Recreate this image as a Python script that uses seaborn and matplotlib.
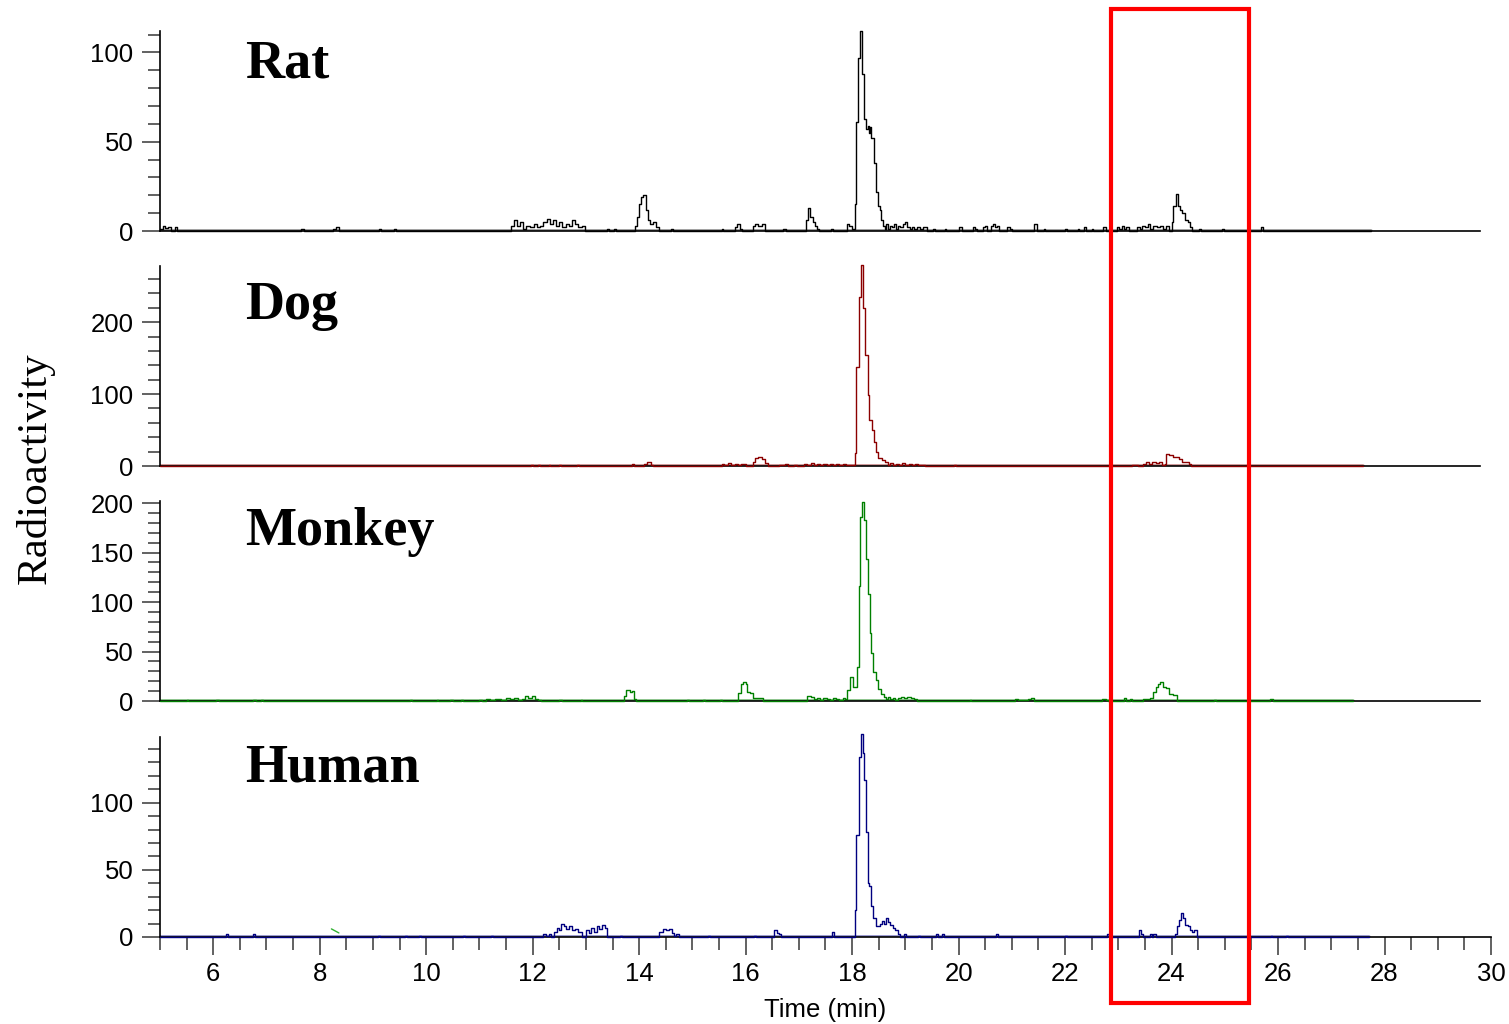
import matplotlib
matplotlib.use("Agg")
import matplotlib.pyplot as plt
import seaborn as sns
from matplotlib.ticker import MultipleLocator
from matplotlib.patches import Rectangle
from matplotlib.transforms import blended_transform_factory

# radio-chromatograms, (time in min, counts); step traces
rat_trace = [
    (5.0, 1), (5.05, 3), (5.1, 1.5), (5.15, 2.5), (5.2, 0), (5.28, 2), (5.32, 0),
    (7.65, 1), (7.7, 0), (8.25, 1), (8.3, 2), (8.36, 0),
    (9.12, 1), (9.16, 0), (9.4, 1), (9.44, 0),
    (11.6, 3), (11.65, 6), (11.7, 3), (11.76, 5), (11.82, 1), (11.88, 3), (11.95, 2),
    (12.02, 4), (12.08, 2), (12.14, 3), (12.2, 5), (12.26, 7), (12.32, 4), (12.38, 6),
    (12.44, 3), (12.5, 5), (12.56, 2), (12.62, 4), (12.68, 3), (12.74, 6), (12.8, 4),
    (12.86, 2), (12.92, 3), (12.98, 0),
    (13.4, 1), (13.44, 0), (13.52, 1), (13.56, 0),
    (13.92, 3), (13.96, 8), (14.0, 15), (14.04, 19), (14.08, 20), (14.12, 12),
    (14.16, 6), (14.2, 4), (14.26, 5), (14.32, 2), (14.38, 0),
    (14.6, 1), (14.64, 0), (15.55, 1), (15.58, 0), (15.8, 2), (15.84, 4), (15.9, 1), (15.94, 0),
    (16.14, 3), (16.18, 4), (16.24, 3), (16.3, 4), (16.36, 0), (16.7, 1), (16.76, 0),
    (17.14, 6), (17.18, 13), (17.21, 8), (17.26, 5), (17.3, 3), (17.34, 1), (17.38, 0),
    (17.6, 1), (17.64, 0),
    (17.9, 4), (17.95, 3), (18.0, 1), (18.05, 15), (18.08, 61), (18.11, 97), (18.15, 112),
    (18.19, 88), (18.23, 63), (18.27, 57), (18.29, 59), (18.31, 55), (18.33, 58),
    (18.36, 52), (18.41, 38), (18.44, 22), (18.49, 14), (18.52, 12), (18.55, 6),
    (18.58, 3), (18.61, 1), (18.64, 4), (18.67, 1), (18.71, 3), (18.74, 2), (18.78, 4),
    (18.82, 1), (18.86, 3), (18.9, 2), (18.95, 4), (19.0, 5), (19.04, 2), (19.08, 1),
    (19.12, 2), (19.16, 1), (19.22, 2), (19.28, 1), (19.34, 2), (19.4, 0),
    (19.52, 1), (19.55, 0), (19.74, 1), (19.77, 0),
    (20.0, 2), (20.06, 0), (20.27, 2), (20.3, 1), (20.35, 0), (20.46, 2), (20.5, 3), (20.54, 0),
    (20.6, 3), (20.64, 4), (20.68, 2), (20.72, 3), (20.76, 0), (20.9, 2), (20.96, 1), (21.0, 0),
    (21.42, 4), (21.47, 0), (21.6, 1), (21.63, 0), (22.0, 1), (22.03, 0),
    (22.24, 1), (22.27, 0), (22.36, 2), (22.4, 0), (22.5, 1), (22.53, 0), (22.72, 2), (22.76, 0),
    (22.98, 2), (23.02, 1), (23.06, 3), (23.1, 1), (23.14, 2), (23.2, 0),
    (23.35, 2), (23.4, 1), (23.44, 3), (23.5, 2), (23.56, 4), (23.6, 1), (23.66, 3),
    (23.72, 2), (23.78, 3), (23.84, 1), (23.9, 3), (23.96, 0),
    (24.0, 5), (24.03, 14), (24.08, 21), (24.12, 14), (24.16, 12), (24.2, 10),
    (24.25, 6), (24.3, 5), (24.35, 2), (24.38, 0),
    (24.52, 1), (24.55, 0), (24.95, 1), (24.98, 0), (25.68, 2), (25.72, 0), (27.74, 0),
]

dog_trace = [
    (5.0, 0), (11.96, 1), (12.0, 0), (12.1, 1), (12.13, 0), (12.3, 1), (12.33, 0),
    (12.5, 1), (12.53, 0), (12.84, 1), (12.87, 0),
    (13.86, 3), (13.9, 0), (14.1, 3), (14.15, 5), (14.22, 2), (14.26, 0),
    (15.55, 3), (15.6, 1), (15.66, 4), (15.72, 2), (15.8, 3), (15.86, 1), (15.92, 3), (16.0, 0),
    (16.14, 5), (16.18, 11), (16.24, 13), (16.3, 10), (16.36, 4), (16.42, 0),
    (16.62, 2), (16.68, 1), (16.74, 3), (16.8, 0), (16.9, 2), (16.96, 0),
    (17.1, 3), (17.16, 2), (17.22, 4), (17.28, 2), (17.34, 3), (17.4, 1), (17.46, 3),
    (17.52, 2), (17.58, 3), (17.64, 1), (17.7, 3), (17.76, 2), (17.82, 3), (17.88, 1),
    (17.94, 2), (18.0, 1),
    (18.05, 18), (18.08, 138), (18.13, 235), (18.16, 279), (18.21, 219), (18.25, 154),
    (18.29, 99), (18.32, 64), (18.37, 50), (18.41, 34), (18.44, 20), (18.49, 11),
    (18.56, 8), (18.62, 5), (18.67, 2), (18.72, 4), (18.77, 1), (18.82, 3), (18.88, 2),
    (18.94, 4), (19.0, 1), (19.06, 3), (19.12, 2), (19.18, 3), (19.24, 1), (19.3, 2), (19.36, 0),
    (19.92, 1), (19.95, 0),
    (23.26, 2), (23.32, 1), (23.37, 0), (23.46, 3), (23.52, 5), (23.58, 3), (23.64, 6),
    (23.7, 4), (23.76, 5), (23.82, 2), (23.88, 3), (23.9, 17), (23.96, 15), (24.02, 12),
    (24.08, 13), (24.14, 10), (24.2, 6), (24.26, 5), (24.32, 3), (24.36, 0), (27.6, 0),
]

monkey_trace = [
    (5.0, 0), (5.5, 1), (5.53, 0), (6.05, 1), (6.1, 0), (6.75, 1), (6.8, 0), (6.9, 1), (6.93, 0),
    (9.7, 1), (9.73, 0), (10.2, 1), (10.23, 0), (10.45, 1), (10.5, 0), (10.65, 1), (10.7, 0),
    (11.0, 1), (11.05, 0), (11.12, 2), (11.2, 1), (11.3, 2), (11.4, 1), (11.5, 3), (11.58, 2),
    (11.65, 3), (11.72, 1), (11.8, 2), (11.86, 5), (11.92, 3), (11.98, 5), (12.04, 2),
    (12.1, 1), (12.16, 0), (12.5, 1), (12.55, 0), (12.9, 1), (12.93, 0),
    (13.72, 5), (13.76, 11), (13.82, 9), (13.86, 10), (13.9, 2), (13.94, 0),
    (14.9, 1), (14.93, 0), (15.2, 1), (15.23, 0), (15.52, 1), (15.55, 0),
    (15.86, 8), (15.91, 17), (15.95, 19), (16.0, 17), (16.03, 9), (16.08, 8), (16.14, 3), (16.33, 0),
    (17.15, 5), (17.22, 4), (17.28, 2), (17.34, 3), (17.4, 1), (17.46, 3), (17.52, 2),
    (17.58, 1), (17.64, 3), (17.7, 2), (17.76, 1), (17.82, 3), (17.86, 2),
    (17.9, 11), (17.96, 24), (18.02, 14), (18.09, 34), (18.12, 116), (18.15, 186),
    (18.18, 201), (18.22, 183), (18.26, 143), (18.29, 108), (18.33, 69), (18.36, 49),
    (18.39, 29), (18.44, 21), (18.48, 12), (18.54, 7), (18.6, 4), (18.64, 2), (18.68, 4),
    (18.72, 2), (18.76, 3), (18.8, 1), (18.86, 3), (18.92, 4), (18.98, 3), (19.04, 4),
    (19.1, 3), (19.16, 2), (19.22, 0),
    (20.21, 1), (20.24, 0), (21.06, 2), (21.12, 1), (21.3, 2), (21.36, 3), (21.42, 0),
    (22.7, 2), (22.76, 1), (22.8, 0), (23.1, 3), (23.14, 0), (23.22, 2), (23.26, 0),
    (23.46, 2), (23.6, 3), (23.65, 9), (23.7, 14), (23.74, 17), (23.78, 19), (23.84, 14),
    (23.9, 13), (23.96, 7), (24.02, 6), (24.1, 0),
    (24.8, 1), (24.83, 0), (25.85, 2), (25.9, 0), (27.4, 0),
]

human_trace = [
    (5.0, 0), (6.24, 2), (6.28, 0), (6.75, 2), (6.79, 0), (9.1, 1), (9.13, 0),
    (9.6, 1), (9.63, 0), (9.86, 1), (9.9, 0), (10.7, 1), (10.73, 0), (11.22, 1), (11.26, 0),
    (12.2, 2), (12.25, 1), (12.3, 2), (12.35, 0), (12.4, 4), (12.45, 7), (12.5, 5),
    (12.54, 10), (12.58, 8), (12.62, 6), (12.68, 8), (12.74, 5), (12.8, 6), (12.86, 4), (12.93, 0),
    (13.01, 5), (13.06, 3), (13.1, 7), (13.15, 4), (13.2, 8), (13.25, 6), (13.3, 9),
    (13.35, 7), (13.39, 0), (13.64, 1), (13.67, 0),
    (14.38, 4), (14.44, 6), (14.5, 5), (14.56, 6), (14.62, 3), (14.66, 1), (14.7, 2), (14.74, 0),
    (15.3, 1), (15.33, 0), (16.16, 1), (16.19, 0), (16.53, 5), (16.58, 3), (16.62, 2), (16.66, 0),
    (17.62, 4), (17.66, 0),
    (18.05, 20), (18.08, 76), (18.13, 134), (18.16, 151), (18.2, 137), (18.23, 117),
    (18.26, 78), (18.29, 40), (18.32, 38), (18.35, 23), (18.4, 14), (18.45, 8),
    (18.52, 10), (18.56, 12), (18.6, 10), (18.64, 14), (18.68, 11), (18.71, 9),
    (18.76, 7), (18.8, 5), (18.86, 2), (18.9, 0),
    (18.98, 2), (19.02, 0), (19.24, 1), (19.27, 0), (19.58, 2), (19.62, 0), (19.68, 2), (19.72, 0),
    (20.7, 2), (20.74, 0), (22.0, 1), (22.03, 0), (22.78, 2), (22.82, 0),
    (23.38, 5), (23.42, 2), (23.46, 0), (23.6, 2), (23.64, 0), (23.66, 2), (23.7, 0),
    (24.06, 2), (24.1, 8), (24.14, 13), (24.18, 18), (24.22, 14), (24.26, 9), (24.3, 8),
    (24.34, 5), (24.38, 4), (24.42, 5), (24.47, 0),
    (25.86, 1), (25.89, 0), (26.15, 1), (26.18, 0), (27.7, 0),
]
# stray green stroke seen in the human panel
stray_time = [8.22, 8.36]
stray_value = [6, 3]

species = ["Rat", "Dog", "Monkey", "Human"]
traces = [rat_trace, dog_trace, monkey_trace, human_trace]
y_max = [112, 278, 202, 149]
y_major = [50, 100, 50, 50]
y_minor = [10, 20, 10, 10]
line_colors = ["#000000", "#8b0000", "#008000", "#000080"]
base_colors = ["#8c8c8c", "#c48484", "#74b874", "#8484c4"]
name_y = [0.77, 0.735, 0.78, 0.775]

box_start, box_end = 22.86, 25.45

sns.set_theme(style="white")
plt.rcParams["font.family"] = ["Liberation Sans", "DejaVu Sans"]
plt.rcParams["text.color"] = "black"
plt.rcParams["axes.labelcolor"] = "black"

fig = plt.figure(figsize=(15.09, 10.24), dpi=100)
bottoms = [0.7744, 0.5449, 0.3154, 0.0850]
axes = [fig.add_axes([0.10603, b, 0.88204, 0.1953]) for b in bottoms]

for i, ax in enumerate(axes):
    t, v = zip(*traces[i])
    sns.lineplot(x=[t[0], t[-1]], y=[0, 0], color=base_colors[i], linewidth=2.6,
                 ax=ax, errorbar=None, zorder=2)
    sns.lineplot(x=list(t), y=list(v), drawstyle="steps-post", color=line_colors[i],
                 linewidth=1.0, ax=ax, errorbar=None, clip_on=False, zorder=3)
    ax.set_xlim(5, 30)
    ax.set_ylim(0, y_max[i])
    ax.yaxis.set_major_locator(MultipleLocator(y_major[i]))
    ax.yaxis.set_minor_locator(MultipleLocator(y_minor[i]))
    ax.tick_params(axis="y", which="major", left=True, length=13, width=1.3,
                   color="#555555", labelsize=18.5, pad=6, labelcolor="black")
    ax.tick_params(axis="y", which="minor", left=True, length=9, width=1.3, color="#555555")
    for s in ["top", "right"]:
        ax.spines[s].set_visible(False)
    for s in ["left", "bottom"]:
        ax.spines[s].set_color("black")
        ax.spines[s].set_linewidth(1.2)
    ax.set_xlabel("")
    ax.set_ylabel("")
    ax.text(6.6, name_y[i], species[i], transform=ax.get_xaxis_transform(), color="black",
            fontsize=39, fontweight="bold", family="Liberation Serif", va="baseline")
    if i < 3:
        ax.set_xticks([])
        ax.spines["bottom"].set_bounds(5, 29.8)

ax_h = axes[3]
sns.lineplot(x=stray_time, y=stray_value, color="#30b030", linewidth=1.0, ax=ax_h, errorbar=None)
ax_h.xaxis.set_major_locator(MultipleLocator(2))
ax_h.xaxis.set_minor_locator(MultipleLocator(0.5))
ax_h.tick_params(axis="x", which="major", bottom=True, length=13, width=1.3,
                 color="#555555", labelsize=18.5, pad=5, labelcolor="black")
ax_h.tick_params(axis="x", which="minor", bottom=True, length=9, width=1.3, color="#555555")
ax_h.set_xlabel("Time (min)", fontsize=18.5, labelpad=9, color="black")

fig.text(35 / 1509, 1 - 468 / 1024, "Radioactivity", rotation=90, ha="center", va="center",
         fontsize=31, family="Liberation Serif", color="black")

# red highlight box around the ~24 min peak
trans = blended_transform_factory(ax_h.transData, fig.transFigure)
fig.add_artist(Rectangle((box_start, 0.0205), box_end - box_start, 0.9707, transform=trans,
                         fill=False, edgecolor="#ff0000", linewidth=3, clip_on=False))

fig.savefig("out.png", dpi=100)
